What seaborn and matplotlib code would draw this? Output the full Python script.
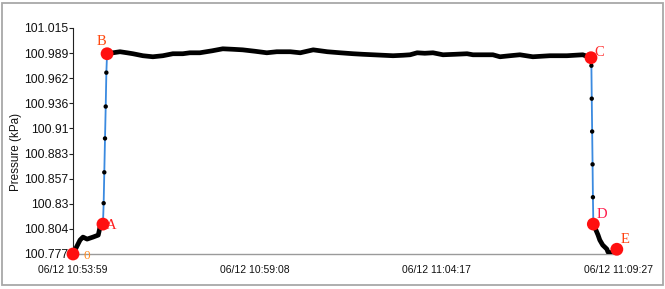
import numpy as np
import pandas as pd
import matplotlib
matplotlib.use("Agg")
import matplotlib.pyplot as plt
import seaborn as sns
from matplotlib.patches import Rectangle

# ---------------- data ----------------
x_tick_pos = [0, 309, 618, 928]
x_tick_labels = ["06/12 10:53:59", "06/12 10:59:08", "06/12 11:04:17", "06/12 11:09:27"]
y_min, y_max = 100.777, 101.015
y_tick_labels = ["100.777", "100.804", "100.83", "100.857", "100.883",
                 "100.91", "100.936", "100.962", "100.989", "101.015"]

# seconds since start, pressure in kPa
pre_t = [0, 12, 17, 24, 34, 43, 46, 51]
pre_v = [100.777, 100.7917, 100.7948, 100.7927, 100.7948, 100.7969, 100.8053, 100.8085]

rise_t = [51, 52.2, 53.3, 54.5, 55.7, 56.8, 58]
rise_v = [100.8085, 100.8305, 100.863, 100.8987, 100.9323, 100.968, 100.9879]

plateau_t = [58, 68, 80, 92, 102, 119, 136, 153, 170, 187, 199, 216, 237, 255, 272,
             289, 310, 330, 347, 370, 387, 409, 433, 455, 477, 494, 511, 528, 545,
             562, 574, 586, 599, 613, 630, 650, 671, 681, 698, 715, 727, 744, 761,
             783, 812, 841, 868, 882]
plateau_v = [100.9879, 100.9889, 100.9900, 100.9889, 100.9879, 100.9858, 100.9847,
             100.9858, 100.9879, 100.9879, 100.9889, 100.9889, 100.9910, 100.9931,
             100.9926, 100.9920, 100.9905, 100.9889, 100.9900, 100.9900, 100.9889,
             100.9920, 100.9900, 100.9889, 100.9879, 100.9873, 100.9868, 100.9863,
             100.9858, 100.9863, 100.9868, 100.9889, 100.9884, 100.9889, 100.9868,
             100.9873, 100.9879, 100.9868, 100.9868, 100.9868, 100.9847, 100.9858,
             100.9868, 100.9847, 100.9858, 100.9858, 100.9868, 100.9837]

fall_t = [882, 882.7, 883.3, 884, 884.7, 885.3, 886]
fall_v = [100.9837, 100.9753, 100.9406, 100.906, 100.8714, 100.8368, 100.8085]

post_t = [886, 889, 894, 897, 902, 909, 911, 920, 926]
post_v = [100.8085, 100.8043, 100.797, 100.7917, 100.7864, 100.7822, 100.779, 100.778, 100.782]

key_names = ["0", "A", "B", "C", "D", "E"]
key_t = [pre_t[0], rise_t[0], rise_t[-1], fall_t[0], fall_t[-1], post_t[-1]]
key_v = [pre_v[0], rise_v[0], rise_v[-1], fall_v[0], fall_v[-1], post_v[-1]]
key_colors = ["#ff8a1f", "#ff1f1f", "#ff4a10", "#ff2a2a", "#ff1a4a", "#ff4010"]

# ---------------- plot ----------------
sns.set_style("white")
plt.rcParams['font.family'] = ['Liberation Sans', 'DejaVu Sans']

fig = plt.figure(figsize=(6.65, 2.89), dpi=100)
ax = fig.add_axes([73/665, 35/289, 545/665, 226/289])

for t, v in [(pre_t, pre_v), (plateau_t, plateau_v), (post_t, post_v)]:
    sns.lineplot(x=t, y=v, ax=ax, color="black", lw=3.4, estimator=None,
                 sort=False, solid_capstyle="round", solid_joinstyle="round", zorder=3)

for t, v in [(rise_t, rise_v), (fall_t, fall_v)]:
    sns.lineplot(x=t, y=v, ax=ax, color="#3a8ae0", lw=1.3, estimator=None,
                 sort=False, zorder=2)
    sns.scatterplot(x=t[1:-1], y=v[1:-1], ax=ax, color="black", s=10,
                    edgecolor="none", zorder=4)

sns.scatterplot(x=key_t, y=key_v, ax=ax, color="#ff1010", s=85, edgecolor="none",
                zorder=5, clip_on=False)

offsets = {"0": (10, -1.5), "A": (6, -1), "B": (-4, 9), "C": (6, 4), "D": (6, 7), "E": (6, 7)}
sizes = {"0": 9.5, "A": 10.5, "B": 10.5, "C": 10.5, "D": 10.5, "E": 10.5}
for name, t, v, c in zip(key_names, key_t, key_v, key_colors):
    ax.annotate(name, (t, v), xytext=offsets[name], textcoords="offset points",
                ha="center", va="center", color=c, fontsize=sizes[name],
                family=["Liberation Serif", "DejaVu Serif"], zorder=6,
                annotation_clip=False)

ax.set_xlim(0, 928)
ax.set_ylim(y_min, y_max)
ax.set_xticks(x_tick_pos)
ax.set_xticklabels(x_tick_labels)
ax.set_yticks(np.linspace(y_min, y_max, len(y_tick_labels)))
ax.set_yticklabels(y_tick_labels)
ax.set_xlabel("")
ax.set_ylabel("Pressure (kPa)", fontsize=8.4, color="#111111")
ax.yaxis.set_label_coords(-0.094, 0.45)

for s in ["top", "right"]:
    ax.spines[s].set_visible(False)
ax.spines["left"].set_color("#222222")
ax.spines["left"].set_linewidth(0.8)
ax.spines["bottom"].set_color("#9a9a9a")
ax.spines["bottom"].set_linewidth(1.0)

ax.tick_params(axis="y", direction="out", length=3, width=0.8, color="#222222",
               pad=0.5, labelsize=8.8, labelcolor="#111111", left=True)
ax.tick_params(axis="x", length=0, pad=8, labelsize=7.5, labelcolor="#111111")

fig.patches.append(Rectangle((2/665, 4/289), 661/665, 282/289, transform=fig.transFigure,
                             fill=False, edgecolor="#a8a8a8", lw=1.3))

fig.savefig("out.png", dpi=100)
